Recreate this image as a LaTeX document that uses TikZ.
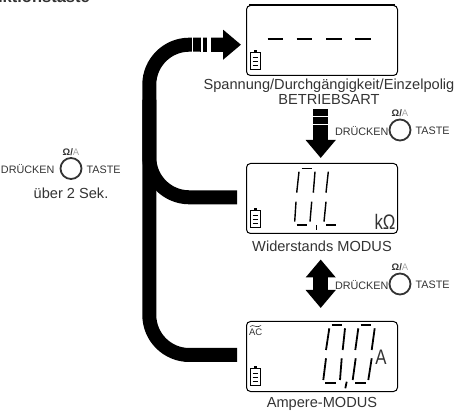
\documentclass[tikz,border=0pt]{standalone}
\usepackage{fontspec}
\setmainfont{Liberation Sans}
\usepackage{xcolor}
\usetikzlibrary{arrows.meta,positioning}
\definecolor{inktext}{HTML}{333333}

\begin{document}
\begin{tikzpicture}[
  x=1pt, y=-1pt, >=Latex,
  lcd/.style={draw, rounded corners=4pt, line width=1pt, minimum width=151pt, minimum height=70pt, inner sep=0pt},
  caption/.style={text=inktext, font=\fontsize{14.6}{14.5}\selectfont, inner sep=0pt, align=center},
  knob/.style={draw=inktext, circle, line width=1.8pt, minimum size=21pt, inner sep=0pt},
  knobtext/.style={text=inktext, font=\fontsize{10.8}{10.8}\selectfont, inner sep=0pt},
  bus/.style={line width=14pt, rounded corners=40pt},
  bigarrow/.style={line width=15pt, -{Triangle[length=18pt,width=29pt]}},
  gap/.style={draw=white, line width=1.5pt},
  seg/.style={line width=1.4pt},
  unit/.style={inner sep=0pt, text=inktext, xscale=0.8, font=\fontsize{21}{21}\selectfont},
]
\useasboundingbox (0,0) rectangle (455,411);
% displays
\node[lcd] (lcd1) at (322,40.5) {};
\node[lcd, below=87pt of lcd1] (lcd2) {};
\node[lcd, below=87pt of lcd2] (lcd3) {};
\draw[line width=2pt] ([xshift=3pt]lcd1.north west) -- ([xshift=-3pt]lcd1.north east);
\node[caption, below=3pt of lcd1, xshift=7pt] (mode1) {Spannung/Durchgängigkeit/Einzelpolig\\BETRIEBSART};
\node[caption, below=7pt of lcd2] (mode2) {Widerstands MODUS};
\node[caption, below=5pt of lcd3] (mode3) {Ampere-MODUS};
% heading, cut off by the page edge
\node[anchor=base east, inner sep=0pt, font=\bfseries\fontsize{16.5}{16.5}\selectfont, text=inktext] (title) at (90,3) {Funktionstaste};
% thick lines on the left
\coordinate (busA) at (230,44.7);
\coordinate (tipA) at (241,44.7);
\coordinate (busB) at (237,197.3);
\coordinate (busC) at (237,355);
\coordinate (trunk) at (149.3,100);
\draw[bus] (busC) -| (trunk);
\draw[bus] (busB) -| (trunk);
\draw[bus] (busA) -| (trunk);
\draw[line width=14pt, -{Triangle[length=18pt,width=29pt]}] (200,44.7) -- (tipA);
\draw[gap, line width=1.6pt] (192.5,36) -- (192.5,53);
\draw[gap, line width=2.3pt] (202.2,36) -- (202.2,53);
\draw[gap, line width=3.2pt] (209,36) -- (209,53);
% arrows between the displays
\coordinate (downA) at (320.7,109);
\coordinate (downB) at (320.7,158);
\coordinate (bothA) at (320.7,259.5);
\coordinate (bothB) at (320.7,308);
\draw[bigarrow] (downA) -- (downB);
\draw[gap, line width=1pt] (312,116.7) -- (330,116.7);
\draw[gap, line width=1pt] (312,125) -- (330,125);
\draw[line width=15pt, {Triangle[length=18pt,width=29pt]}-{Triangle[length=18pt,width=29pt]}] (bothA) -- (bothB);
% buttons
\foreach \name/\x/\y/\leftgap in {knobA/400/130/0pt, knobB/400/284/0pt, knobC/71/168.5/5pt} {
  \node[knob] (\name) at (\x,\y) {};
  \node[knobtext, left=\leftgap of \name, yshift=-1pt] (\name left) {DRÜCKEN};
  \node[knobtext, right=4pt of \name, yshift=-1pt] (\name right) {TASTE};
  \node[knobtext, above=1.5pt of \name, font=\fontsize{9.5}{9.5}\selectfont] (\name top) {\textbf{Ω/}\textcolor{gray!70}{A}};
}
\node[caption, below=8pt of knobC] (hold) {über 2 Sek.};
% battery symbols
\foreach \lcd in {lcd1,lcd2,lcd3} {
  \begin{scope}[shift={(\lcd.south west)}]
    \draw[line width=0.8pt] (4.3,-7) rectangle (14,-24);
    \fill (7.5,-26) rectangle (10.8,-24);
    \foreach \h in {-11,-15,-19}
      \draw[line width=0.8pt] (6.5,\h) -- (12,\h);
  \end{scope}
}
% first display
\draw[line width=1.2pt] (267.7,39) -- (282.7,39);
\foreach \a/\b in {296.7/312.3, 326/341.7, 355/371}
  \draw[line width=1.8pt] (\a,39) -- (\b,39);
% second display
\foreach \a/\b/\c/\d in {301.7/168.3/311.7/168.3, 299/171.7/296.7/192.7, 315/171.7/313.3/192.7, 328.3/171.7/326/192.7, 296/201.7/294.7/221.7, 296.7/225/306.7/225, 311.7/201.7/310/221.7, 316.7/225/316.7/230, 326/201.7/324/221.7, 326/225/336/225}
  \draw[seg] (\a,\b) -- (\c,\d);
\node[unit] (unitB) at (385,222) {kΩ};
% third display
\foreach \a/\b/\c/\d in {331.7/325/341.7/325, 360.7/325/370.7/325, 329.3/328.3/326/350, 345/328.3/342.7/350, 358.3/328.3/355.3/350, 374.7/328.3/371.7/350, 326/358.3/323.3/380, 341.7/358.3/340/380, 355.7/358.3/352.7/380, 371.7/358.3/368.3/380, 325/383.3/336/383.3, 355/383.3/365.7/383.3, 346.7/381.7/345.3/388.3}
  \draw[seg, line width=1.8pt] (\a,\b) -- (\c,\d);
\node[unit] (unitC) at (381,357) {A};
\node[inner sep=0pt, text=inktext, font=\fontsize{9.5}{9.5}\selectfont] (acmark) at (255.7,332) {AC};
\draw[line width=0.5pt] (250,326.5) .. controls (253,323.5) and (257,329) .. (261,325.5);
\end{tikzpicture}
\end{document}
